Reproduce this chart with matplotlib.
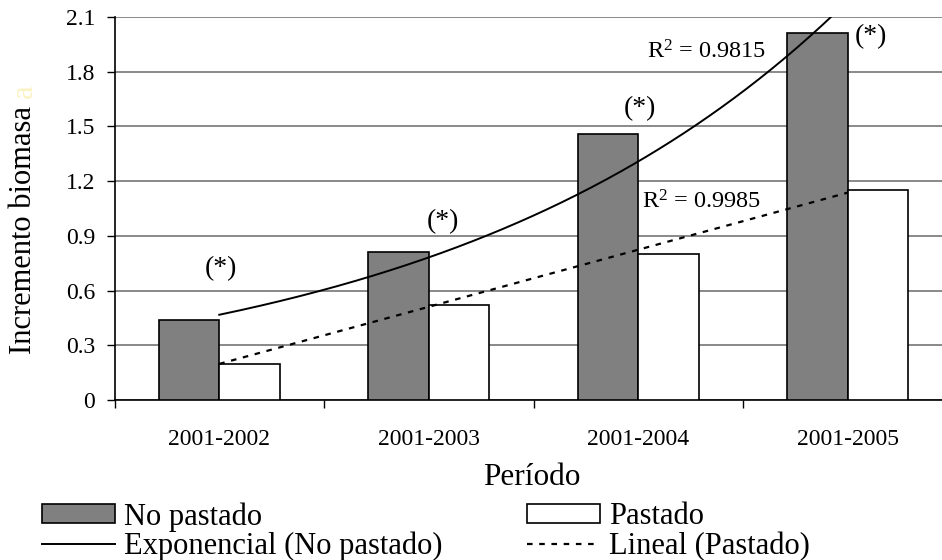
import numpy as np
import matplotlib
matplotlib.use('Agg')
import matplotlib.pyplot as plt
from matplotlib.ticker import FixedLocator, NullFormatter
from matplotlib.patches import Patch
from matplotlib.lines import Line2D

########################### data ############################

periodos = ['2001-2002', '2001-2003', '2001-2004', '2001-2005']
no_pastado = [0.44, 0.81, 1.46, 2.01]
pastado = [0.20, 0.52, 0.80, 1.15]
y_ticks = [0, 0.3, 0.6, 0.9, 1.2, 1.5, 1.8, 2.1]
y_ticklabels = ['0', '0.3', '0.6', '0.9', '1.2', '1.5', '1.8', '2.1']
# "(*)" marks: category position and height
star_x = [0.01, 1.07, 2.01, 3.11]
star_y = [0.72, 0.98, 1.595, 1.99]
r2_exp = 'R$^2$ = 0.9815'
r2_lin = 'R$^2$ = 0.9985'

########################### settings ############################

W, H = 942, 560
dpi = 100
serif = ['Liberation Serif', 'DejaVu Serif']
plt.rcParams['font.family'] = serif
plt.rcParams['mathtext.fontset'] = 'custom'
plt.rcParams['mathtext.rm'] = 'Liberation Serif'
plt.rcParams['mathtext.it'] = 'Liberation Serif:italic'

bar_w = 0.289
dark = '#808080'
grid_c = '#808080'
edge_lw = 1.2

fig = plt.figure(figsize=(W / dpi, H / dpi), dpi=dpi)
left, right, top, bottom = 114.5, 942, 17, 400
ax = fig.add_axes([left / W, 1 - bottom / H, (right - left) / W, (bottom - top) / H])

idx = np.arange(len(periodos))
ax.bar(idx - bar_w / 2, no_pastado, bar_w, color=dark, edgecolor='black', linewidth=edge_lw, zorder=3)
ax.bar(idx + bar_w / 2, pastado, bar_w, color='white', edgecolor='black', linewidth=edge_lw, zorder=3)

# trendlines (Excel style: x = 1..n)
xs = idx + 1
b, lna = np.polyfit(xs, np.log(no_pastado), 1)
m, c = np.polyfit(xs, pastado, 1)
xf = np.linspace(xs[0], xs[-1], 300)
ax.plot(xf - 1, np.exp(lna + b * xf), color='black', linewidth=1.4, zorder=4)
ax.plot(xf - 1, m * xf + c, color='black', linewidth=1.6, linestyle=(0, (2.5, 3)), zorder=4)

for sx, sy in zip(star_x, star_y):
    ax.text(sx, sy, '(*)', fontsize=20, ha='center', va='center', zorder=5)
ax.text(2.04, 1.91, r2_exp, fontsize=17.5, ha='left', va='center', zorder=5)
ax.text(2.02, 1.085, r2_lin, fontsize=17.5, ha='left', va='center', zorder=5)

ax.set_xlim(-0.5, -0.5 + (right - left) / 209.5)
ax.set_ylim(0, 2.1)

ax.yaxis.set_major_locator(FixedLocator(y_ticks))
ax.set_yticklabels(y_ticklabels)
ax.yaxis.grid(True, color=grid_c, linewidth=1.3, zorder=0)
ax.set_axisbelow(True)

ax.xaxis.set_major_locator(FixedLocator(np.arange(-0.5, len(periodos) + 0.5, 1.0)))
ax.xaxis.set_major_formatter(NullFormatter())
ax.xaxis.set_minor_locator(FixedLocator(idx))
ax.set_xticklabels(periodos, minor=True)

ax.tick_params(axis='y', which='major', direction='out', length=6, width=1.0, pad=8, labelsize=17)
ax.tick_params(axis='x', which='major', direction='out', length=6, width=1.0)
ax.tick_params(axis='x', which='minor', length=0, pad=21, labelsize=17)

for s in ['top', 'right']:
    ax.spines[s].set_visible(False)
ax.spines['left'].set_linewidth(1.2)
ax.spines['bottom'].set_linewidth(1.2)

# axis titles
fig.text(532 / W, 1 - 485 / H, 'Período', fontsize=22.5, ha='center', va='baseline')
fig.text(24 / W, 1 - 230 / H, 'Incremento biomasa', fontsize=22, rotation=90, ha='center', va='center')
fig.text(24 / W, 1 - 91 / H, 'a', fontsize=22, rotation=90, ha='center', va='center', color='#fbf3c4')

handles = [Patch(facecolor=dark, edgecolor='black', linewidth=edge_lw),
           Line2D([], [], color='black', linewidth=1.4),
           Patch(facecolor='white', edgecolor='black', linewidth=edge_lw),
           Line2D([], [], color='black', linewidth=1.6, linestyle=(0, (2.5, 3)))]
labels = ['No pastado', 'Exponencial (No pastado)', 'Pastado', 'Lineal (Pastado)']
fig.legend(handles, labels, ncol=2, loc='upper left', bbox_to_anchor=(42 / W, 1 - 502 / H),
           frameon=False, fontsize=22, handlelength=2.39, handleheight=0.6,
           handletextpad=0.3, columnspacing=2.75, labelspacing=0.0,
           borderpad=0, borderaxespad=0)

fig.savefig('out.png', dpi=dpi)
